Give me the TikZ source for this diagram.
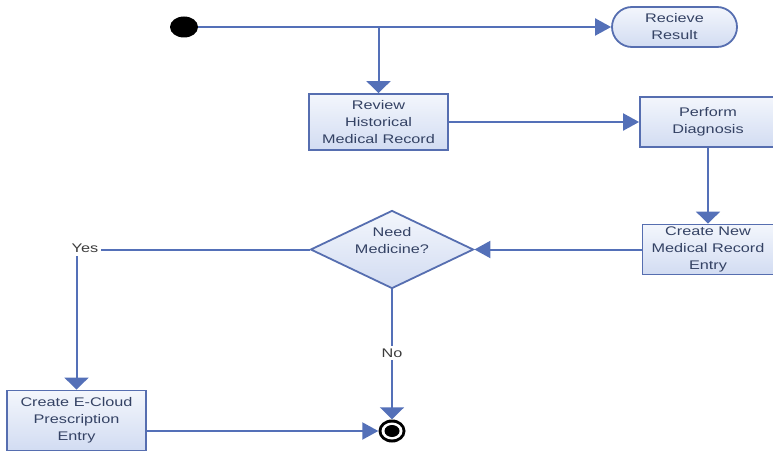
\documentclass[tikz,border=0pt]{standalone}
\usepackage{fontspec}
\setmainfont{Liberation Sans}[FakeStretch=1.3]
\usetikzlibrary{arrows.meta,shapes.geometric}
\definecolor{lineblue}{RGB}{84,112,184}
\definecolor{boxedge}{RGB}{86,110,176}
\definecolor{boxtop}{RGB}{243,246,252}
\definecolor{boxbot}{RGB}{210,220,242}
\definecolor{txt}{RGB}{52,66,100}
\definecolor{lbl}{RGB}{60,60,60}
\begin{document}
\begin{tikzpicture}[x=1pt,y=-1pt,
  box/.style={draw=boxedge,line width=1.8pt,top color=boxtop,bottom color=boxbot,
    align=center,inner sep=0pt,font=\fontsize{12.5}{17}\selectfont,text=txt},
  conn/.style={draw=lineblue,line width=2pt},
  harr/.style={conn,-{Triangle[length=16pt,width=17pt]}},
  varr/.style={conn,-{Triangle[length=12pt,width=24pt]}},
  lab/.style={fill=white,text=lbl,font=\fontsize{12.5}{17}\selectfont,inner sep=3pt},
  dot/.style={ellipse,fill=black,inner sep=0pt}]
\useasboundingbox (0,0) rectangle (773,452);
% nodes
\node[dot,minimum width=28pt,minimum height=21pt] (start) at (184,27) {};
\node[box,rounded corners=20pt,minimum width=125pt,minimum height=40pt] (recv) at (674.5,27) {Recieve\\Result};
\node[box,minimum width=139pt,minimum height=56pt] (review) at (378.5,122) {Review\\Historical\\Medical Record};
\node[box,minimum width=136pt,minimum height=50pt] (perform) at (708,122) {Perform\\Diagnosis};
\node[box,minimum width=131pt,minimum height=50pt] (create) at (708,249.5) {Create New\\Medical Record\\Entry};
\node[box,diamond,minimum width=163pt,minimum height=78pt,aspect=2.1] (dec) at (392,249.5) {};
\node[align=center,text=txt,font=\fontsize{12.5}{17}\selectfont,inner sep=0pt] (dectext) at (392,241) {Need\\Medicine?};
\node[box,minimum width=139pt,minimum height=60pt] (ecloud) at (76.5,420.5) {Create E-Cloud\\Prescription\\Entry};
\node[dot,minimum width=27pt,minimum height=23pt] (endring) at (392,431) {};
\node[ellipse,fill=white,inner sep=0pt,minimum width=21pt,minimum height=17pt] (endwhite) at (endring.center) {};
\node[dot,minimum width=15pt,minimum height=12pt] (endin) at (endring.center) {};
% connectors
\coordinate (br) at (378.5,27);
\draw[harr] (start.east) -- (recv.west);
\draw[varr] (br) -- (review.north);
\draw[harr] (review.east) -- (perform.west);
\draw[varr] (perform.south) -- (create.north);
\draw[harr] (create.west) -- (dec.east);
\draw[varr] (dec.west) -| (ecloud.north);
\node[lab] (yes) at (85,248.5) {Yes};
\draw[varr] (dec.south) -- (endring.north);
\node[lab] (no) at (392,353) {No};
\draw[harr] (ecloud.east |- endring.west) -- (endring.west);
\end{tikzpicture}
\end{document}
